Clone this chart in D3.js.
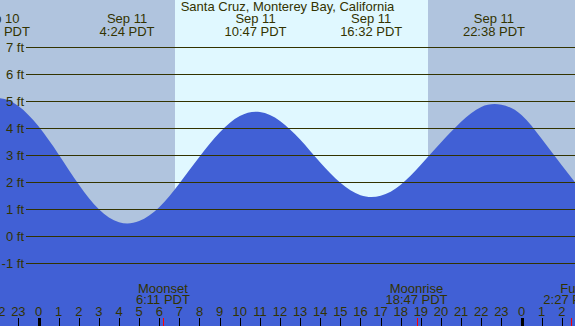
<!DOCTYPE html>
<html>
<head>
<meta charset="utf-8">
<script src="https://cdn.jsdelivr.net/npm/d3@7"></script>
<style>
  body { margin: 0; padding: 0; background: #fff; }
  svg { display: block; font-family: "Liberation Sans", Arial, sans-serif; }
</style>
</head>
<body>
<svg width="575" height="326"></svg>
<script>
// tide height (ft) at each hour, hours from Sep 11 00:00 PDT
const tideHours = [-3, -2, -1, 0, 1, 2, 3, 4, 5, 6, 7, 8, 9, 10, 11, 12, 13, 14, 15, 16, 17, 18, 19, 20, 21, 22, 23, 24, 25, 26, 27];
const tideFeet = [4.85, 5.12, 4.83, 4.08, 3.04, 1.93, 1.01, 0.53, 0.57, 1.08, 1.96, 2.95, 3.85, 4.46, 4.61, 4.28, 3.59, 2.74, 1.99, 1.53, 1.51, 1.92, 2.66, 3.48, 4.25, 4.8, 4.88, 4.5, 3.62, 2.64, 1.68];

// high / low tide labels
const tideEventHours = [-1.97, 4.4, 10.783, 16.533, 22.633];
const tideEventDates = ["Sep 10", "Sep 11", "Sep 11", "Sep 11", "Sep 11"];
const tideEventTimes = ["22:02 PDT", "4:24 PDT", "10:47 PDT", "16:32 PDT", "22:38 PDT"];

// moon events
const moonHours = [6.183, 18.783, 26.45];
const moonNames = ["Moonset", "Moonrise", "Full"];
const moonTimes = ["6:11 PDT", "18:47 PDT", "2:27 PDT"];

// daylight (sunrise, sunset)
const dayStart = 6.78, dayEnd = 19.35;

const feetTicks = [-1, 0, 1, 2, 3, 4, 5, 6, 7];
const hourTicks = d3.range(-2, 28);

const title = "Santa Cruz, Monterey Bay, California";

function drawGraph() {
  var width = 575,
    height = 326;

  var x = d3.scaleLinear().domain([0, 24]).range([38.5, 521.5]),
    y = d3.scaleLinear().domain([-1, 7]).range([263.5, 47.5]);

  var ink = "#333300";
  var svg = d3.select("svg");

  // night / day background
  svg.append("rect").attr("width", width).attr("height", height).attr("fill", "#b0c4de");
  svg
    .append("rect")
    .attr("x", Math.round(x(dayStart)))
    .attr("y", 0)
    .attr("width", Math.round(x(dayEnd)) - Math.round(x(dayStart)))
    .attr("height", height)
    .attr("fill", "#e0f8ff");

  // water
  var pts = tideHours.map((h, i) => [h, tideFeet[i]]);
  var area = d3
    .area()
    .x((d) => x(d[0]))
    .y0(height)
    .y1((d) => y(d[1]))
    .curve(d3.curveNatural);
  svg.append("path").datum(pts).attr("d", area).attr("fill", "#4160d5");

  // grid lines + labels
  var grid = svg.append("g");
  grid
    .selectAll("line")
    .data(feetTicks)
    .enter()
    .append("line")
    .attr("x1", 26)
    .attr("x2", width)
    .attr("y1", (d) => y(d))
    .attr("y2", (d) => y(d))
    .attr("stroke", ink)
    .attr("stroke-width", 1);
  grid
    .selectAll("text")
    .data(feetTicks)
    .enter()
    .append("text")
    .attr("x", 24)
    .attr("y", (d) => y(d) + 4.5)
    .attr("text-anchor", "end")
    .attr("font-size", 13)
    .attr("fill", ink)
    .text((d) => d + " ft");

  // title
  svg
    .append("text")
    .attr("x", width / 2)
    .attr("y", 11)
    .attr("text-anchor", "middle")
    .attr("font-size", 13)
    .attr("fill", ink)
    .text(title);

  // tide labels
  var tl = svg.append("g").attr("font-size", 13).attr("fill", ink).attr("text-anchor", "middle");
  tideEventHours.forEach((h, i) => {
    tl.append("text").attr("x", x(h)).attr("y", 23).text(tideEventDates[i]);
    tl.append("text").attr("x", x(h)).attr("y", 36).text(tideEventTimes[i]);
  });

  // moon labels
  var ml = svg.append("g").attr("font-size", 13).attr("fill", ink).attr("text-anchor", "middle");
  moonHours.forEach((h, i) => {
    ml.append("text").attr("x", x(h)).attr("y", 292.5).text(moonNames[i]);
    ml.append("text").attr("x", x(h)).attr("y", 303.5).text(moonTimes[i]);
  });

  // hour axis
  var ax = svg.append("g");
  ax.selectAll("text")
    .data(hourTicks)
    .enter()
    .append("text")
    .attr("x", (d) => x(d))
    .attr("y", 316)
    .attr("text-anchor", "middle")
    .attr("font-size", 13)
    .attr("fill", ink)
    .text((d) => ((d % 24) + 24) % 24);
  ax.selectAll("line")
    .data(hourTicks)
    .enter()
    .append("line")
    .attr("x1", (d) => Math.round(x(d)) + 0.5)
    .attr("x2", (d) => Math.round(x(d)) + 0.5)
    .attr("y1", 318)
    .attr("y2", height)
    .attr("stroke", "#000")
    .attr("stroke-width", (d) => (d % 24 === 0 ? 3 : 1));

  // moon event ticks
  svg
    .append("g")
    .selectAll("line")
    .data(moonHours)
    .enter()
    .append("line")
    .attr("x1", (d) => Math.round(x(d)) + 0.5)
    .attr("x2", (d) => Math.round(x(d)) + 0.5)
    .attr("y1", 318)
    .attr("y2", height)
    .attr("stroke", "#ff0000")
    .attr("stroke-width", 1);
}

drawGraph();
</script>
</body>
</html>
